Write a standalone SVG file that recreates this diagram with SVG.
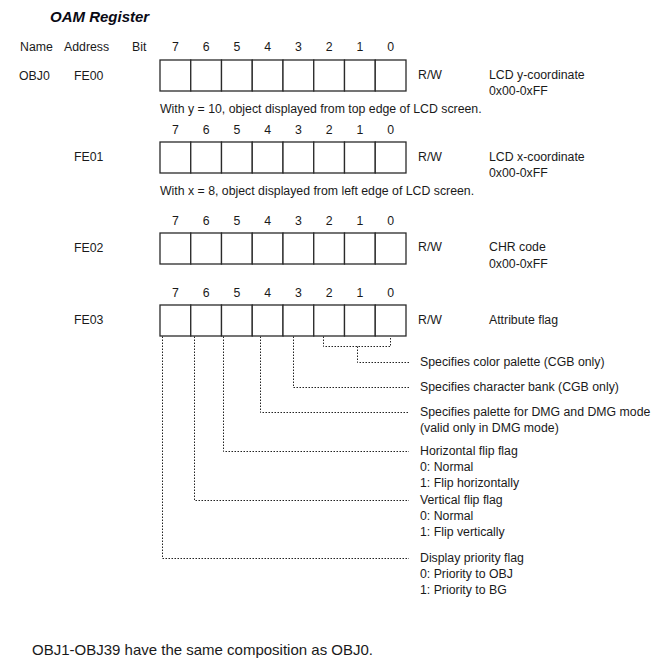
<svg xmlns="http://www.w3.org/2000/svg" width="658" height="664" viewBox="0 0 658 664">
<defs>
<style>
text{font-family:"Liberation Sans",Arial,sans-serif;font-size:12.3px;fill:#1a1a1a}
.title{font-size:15px;font-weight:bold;font-style:italic;fill:#0a0a14}
.bit{text-anchor:middle}
.foot{font-size:15px}
.cell{fill:#fff;stroke:#2a2a2a;stroke-width:1.3}
.dot{fill:none;stroke:#222;stroke-width:1;stroke-dasharray:1.5 1.5}
</style>
<g id="cells">
<rect class="cell" x="0" y="0" width="30.75" height="31"/>
<rect class="cell" x="30.75" y="0" width="30.75" height="31"/>
<rect class="cell" x="61.5" y="0" width="30.75" height="31"/>
<rect class="cell" x="92.25" y="0" width="30.75" height="31"/>
<rect class="cell" x="123" y="0" width="30.75" height="31"/>
<rect class="cell" x="153.75" y="0" width="30.75" height="31"/>
<rect class="cell" x="184.5" y="0" width="30.75" height="31"/>
<rect class="cell" x="215.25" y="0" width="30.75" height="31"/>
</g>
<g id="bits">
<text class="bit" x="15.4" y="0">7</text>
<text class="bit" x="46.1" y="0">6</text>
<text class="bit" x="76.9" y="0">5</text>
<text class="bit" x="107.6" y="0">4</text>
<text class="bit" x="138.4" y="0">3</text>
<text class="bit" x="169.1" y="0">2</text>
<text class="bit" x="199.9" y="0">1</text>
<text class="bit" x="230.6" y="0">0</text>
</g>
</defs>
<rect width="658" height="664" fill="#fff"/>
<text class="title" x="50" y="22">OAM Register</text>
<g id="header">
<text x="20" y="51">Name</text>
<text x="64" y="51">Address</text>
<text x="132" y="51">Bit</text>
</g>
<g id="reg-FE00">
<use href="#bits" x="160" y="51"/>
<text x="19" y="80">OBJ0</text>
<text x="74" y="80">FE00</text>
<use href="#cells" x="160" y="60"/>
<text x="418" y="79">R/W</text>
<text x="489" y="79">LCD y-coordinate</text>
<text x="489" y="95">0x00-0xFF</text>
<text x="160" y="113">With y = 10, object displayed from top edge of LCD screen.</text>
</g>
<g id="reg-FE01">
<use href="#bits" x="160" y="134"/>
<text x="74" y="161">FE01</text>
<use href="#cells" x="160" y="142"/>
<text x="418" y="161">R/W</text>
<text x="489" y="161">LCD x-coordinate</text>
<text x="489" y="177">0x00-0xFF</text>
<text x="160" y="195">With x = 8, object displayed from left edge of LCD screen.</text>
</g>
<g id="reg-FE02">
<use href="#bits" x="160" y="225"/>
<text x="74" y="252">FE02</text>
<use href="#cells" x="160" y="233"/>
<text x="418" y="251">R/W</text>
<text x="489" y="251">CHR code</text>
<text x="489" y="268">0x00-0xFF</text>
</g>
<g id="reg-FE03">
<use href="#bits" x="160" y="297"/>
<text x="74" y="324">FE03</text>
<use href="#cells" x="160" y="305"/>
<text x="418" y="324">R/W</text>
<text x="489" y="324">Attribute flag</text>
</g>
<g id="connectors">
<path class="dot" d="M323.5,336.5V346.5H390.5V336.5"/>
<path class="dot" d="M357.5,346.5V362.5H409"/>
<path class="dot" d="M293.5,336.5V387.5H409"/>
<path class="dot" d="M260.5,336.5V412.5H409"/>
<path class="dot" d="M223.5,336.5V451.5H409"/>
<path class="dot" d="M194.5,336.5V500.5H409"/>
<path class="dot" d="M162.5,336.5V558.5H409"/>
</g>
<g id="descriptions">
<text x="420" y="366">Specifies color palette (CGB only)</text>
<text x="420" y="391">Specifies character bank (CGB only)</text>
<text x="420" y="416">Specifies palette for DMG and DMG mode</text>
<text x="420" y="432">(valid only in DMG mode)</text>
<text x="420" y="455">Horizontal flip flag</text>
<text x="420" y="471">0: Normal</text>
<text x="420" y="487">1: Flip horizontally</text>
<text x="420" y="504">Vertical flip flag</text>
<text x="420" y="520">0: Normal</text>
<text x="420" y="536">1: Flip vertically</text>
<text x="420" y="562">Display priority flag</text>
<text x="420" y="578">0: Priority to OBJ</text>
<text x="420" y="594">1: Priority to BG</text>
</g>
<text class="foot" x="32" y="655">OBJ1-OBJ39 have the same composition as OBJ0.</text>
</svg>
